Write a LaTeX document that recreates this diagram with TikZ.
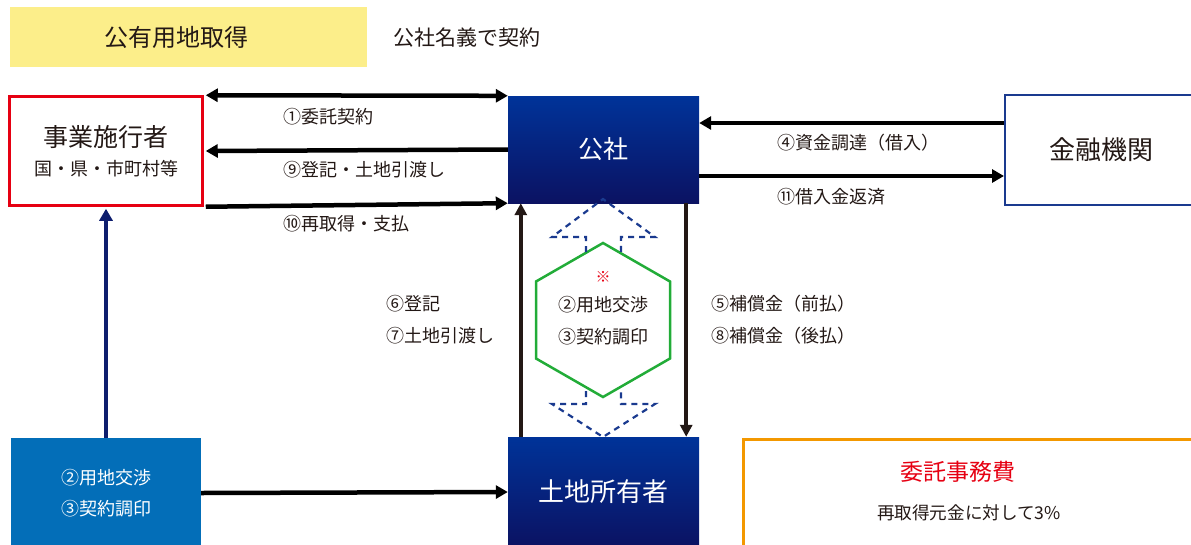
\documentclass[tikz,border=0pt]{standalone}
\usepackage{fontspec}
\setmainfont{Noto Sans CJK JP}
\usetikzlibrary{arrows.meta,calc}
\definecolor{navyA}{HTML}{003399}
\definecolor{navyB}{HTML}{0B1262}
\definecolor{navyline}{HTML}{0E1E6E}
\definecolor{dashnavy}{HTML}{1A3A8F}
\definecolor{yelbg}{HTML}{FCEE8A}
\definecolor{boxred}{HTML}{E60012}
\definecolor{boxblue}{HTML}{036EB8}
\definecolor{hexgreen}{HTML}{22AC38}
\definecolor{orangeb}{HTML}{F39800}
\definecolor{ink}{HTML}{231815}
\begin{document}
\begin{tikzpicture}[x=1pt,y=-1pt,
  lbl/.style={font=\fontsize{18}{18}\selectfont, inner sep=0pt, anchor=west, text=ink},
  arr/.style={line width=4.5pt, draw=black, -{Triangle[length=12pt,width=13pt]}},
  darr/.style={line width=4.5pt, draw=black, {Triangle[length=12pt,width=13pt]}-{Triangle[length=12pt,width=13pt]}},
  varr/.style={line width=4pt, draw=ink, -{Triangle[length=12pt,width=12pt]}},
  gradbox/.style={top color=navyA, bottom color=navyB, draw=none, inner sep=0pt, text=white,
    minimum width=191pt, minimum height=107pt, font=\fontsize{25}{25}\selectfont},
  dsh/.style={draw=dashnavy, line width=2.2pt, dash pattern=on 6pt off 5pt}
]
\useasboundingbox (0,0) rectangle (1191,544);

% title
\node[fill=yelbg, minimum width=357pt, minimum height=60pt, inner sep=0pt] (title) at (188.5,37) {};
\node[font=\fontsize{24}{24}\selectfont, text=ink, inner sep=0pt] (titlet) at (176.5,37) {公有用地取得};
\node[font=\fontsize{21}{21}\selectfont, inner sep=0pt, text=ink] (meigi) at (467,38) {公社名義で契約};

% boxes
\node[draw=boxred, line width=2.5pt, minimum width=193pt, minimum height=109pt, inner sep=0pt,
  align=center, text=ink] (jigyo) at (106,151)
  {{\fontsize{25}{25}\selectfont 事業施行者}\\[11pt]{\fontsize{18}{18}\selectfont 国・県・市町村等}};
\node[gradbox] (kosha) at (603.5,149.5) {公社};
\node[draw=dashnavy, line width=2pt, minimum width=192pt, minimum height=110pt, inner sep=0pt,
  font=\fontsize{26}{26}\selectfont, text=ink] (kinyu) at (1101,150) {金融機関};
\node[gradbox, minimum height=110pt, font=\fontsize{26}{26}\selectfont] (tochi) at (603.5,492) {土地所有者};
\node[fill=boxblue, minimum width=190pt, minimum height=110pt, inner sep=0pt, align=center,
  text=white, font=\fontsize{18}{31}\selectfont] (nego) at (106,493) {②用地交渉\\③契約調印};
\node[draw=orangeb, line width=2.5pt, minimum width=460pt, minimum height=112pt, inner sep=0pt,
  align=center, anchor=north west] (fee) at (742,438) {};
\node[font=\fontsize{23}{23}\selectfont, text=boxred, inner sep=0pt] (feet) at (958,472) {委託事務費};
\node[font=\fontsize{17.6}{17.6}\selectfont, text=ink, inner sep=0pt] (feed) at (969,513) {再取得元金に対して3\%};

% horizontal connectors
\draw[darr] ($(jigyo.north east)+(2,0)$) -- (kosha.north west);
\draw[arr] (kosha.west) -- ($(jigyo.east)+(2,0)$);
\draw[arr] ($(jigyo.south east)+(2,0)$) -- (kosha.south west);
\draw[arr] ($(kinyu.west)+(0,-27)$) -- ($(kosha.east)+(0,-26.5)$);
\draw[arr] ($(kosha.east)+(0,26.5)$) -- ($(kinyu.west)+(0,26)$);
\draw[arr] (nego.east) -- (tochi.west);
\draw[line width=4.5pt, draw=navyline, -{Triangle[length=12pt,width=13pt]}] (nego.north) -- ($(jigyo.south)+(0,2)$);

% vertical connectors
\draw[varr] ($(tochi.north west)+(13,0)$) -- ($(kosha.south west)+(13,0)$);
\draw[varr] ($(kosha.south east)+(-13,0)$) -- ($(tochi.north east)+(-13,0)$);

% labels
\node[lbl] (l1) at (283,117) {①委託契約};
\node[lbl] (l9) at (283,170) {⑨登記・土地引渡し};
\node[lbl] (l10) at (283,224) {⑩再取得・支払};
\node[lbl] (l4) at (777,143) {④資金調達（借入）};
\node[lbl] (l11) at (777,197) {⑪借入金返済};
\node[lbl] (l6) at (386,304) {⑥登記};
\node[lbl] (l7) at (386,336) {⑦土地引渡し};
\node[lbl] (l5) at (711,304) {⑤補償金（前払）};
\node[lbl] (l8) at (711,336) {⑧補償金（後払）};

% hexagon
\draw[draw=hexgreen, line width=2.5pt] (603,243) -- (670,281.5) -- (670,358.5) -- (603,397) -- (536,358.5) -- (536,281.5) -- cycle;
\node[text=boxred, font=\fontsize{15}{15}\selectfont, inner sep=0pt] (kome) at (603,277) {※};
\node[align=center, text=ink, font=\fontsize{18}{32}\selectfont, inner sep=0pt] (hex) at (603,321) {②用地交渉\\③契約調印};

% dashed up arrow
\draw[dsh] (586,252) -- (586,237) -- (552,237) -- (603,199) -- (655,237) -- (621,237) -- (621,252);
% dashed down arrow
\draw[dsh] (586,391) -- (586,404) -- (552,404) -- (603,437) -- (655,404) -- (621,404) -- (621,391);
\end{tikzpicture}
\end{document}
